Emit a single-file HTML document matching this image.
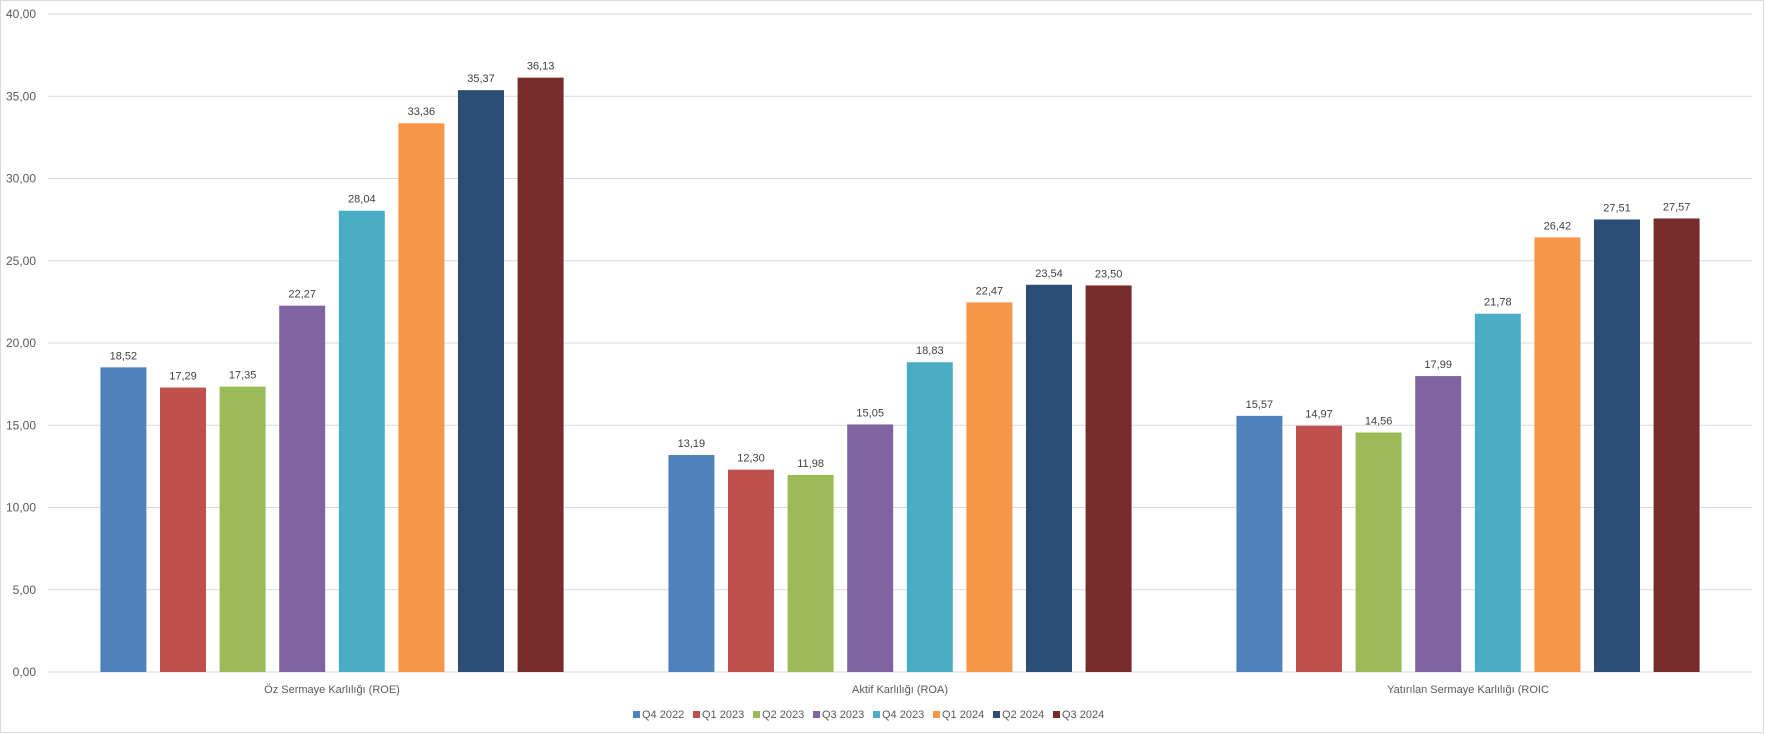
<!DOCTYPE html>
<html><head><meta charset="utf-8"><style>
body{margin:0;background:#fff;}
svg{display:block;font-family:"Liberation Sans",sans-serif;}
</style></head><body>
<svg id="c" width="1765" height="734">
<rect x="0.5" y="0.5" width="1763" height="732" fill="#fff" stroke="#d9d9d9"/>
<g id="grid"></g><g id="bars"></g><g id="labels"></g><g id="legend"></g>
</svg>
<script>
const categories=["Öz Sermaye Karlılığı (ROE)","Aktif Karlılığı (ROA)","Yatırılan Sermaye Karlılığı (ROIC"];
const seriesNames=["Q4 2022","Q1 2023","Q2 2023","Q3 2023","Q4 2023","Q1 2024","Q2 2024","Q3 2024"];
const seriesColors=["#4f81bd","#c0504d","#9bbb59","#8064a2","#4bacc6","#f79646","#2c4d75","#772c2a"];
const roe=[18.52,17.29,17.35,22.27,28.04,33.36,35.37,36.13];
const roa=[13.19,12.30,11.98,15.05,18.83,22.47,23.54,23.50];
const roic=[15.57,14.97,14.56,17.99,21.78,26.42,27.51,27.57];
const yTicks=[0,5,10,15,20,25,30,35,40];
const values=[roe,roa,roic];
const NS="http://www.w3.org/2000/svg";
const X0=48,X1=1752,Y0=672,Y1=14,YMAX=40;
const y=v=>Y0-(v/YMAX)*(Y0-Y1);
const catW=(X1-X0)/categories.length;
const barW=46,step=59.6;
const fmt=v=>v.toFixed(2).replace('.',',');
function mk(tag,attrs,parent,text){const e=document.createElementNS(NS,tag);for(const k in attrs)e.setAttribute(k,attrs[k]);if(text!==undefined)e.textContent=text;document.getElementById(parent).appendChild(e);return e;}
yTicks.forEach(t=>{
  const l=mk('line',{x1:X0,x2:X1,y1:y(t),y2:y(t),stroke:'#d9d9d9','stroke-width':1},'grid');
  
  
  const tx=mk('text',{x:36,y:y(t)+4,'text-anchor':'end','font-size':12,fill:'#595959'},'grid',fmt(t));
  
  
});
const groupW=seriesNames.length*step-(step-barW);
categories.forEach((c,ci)=>{
  const gx=X0+ci*catW+(catW-groupW)/2;
  values[ci].forEach((v,si)=>{
    const bx=gx+si*step;
    const r=mk('rect',{x:bx,y:y(v),width:barW,height:Y0-y(v),fill:seriesColors[si]},'bars');
    
    
    const t=mk('text',{x:bx+barW/2,y:y(v)-8,'text-anchor':'middle','font-size':11,fill:'#404040'},'labels',fmt(v));
    
    
  });
  const ct=mk('text',{x:X0+ci*catW+catW/2,y:693,'text-anchor':'middle','font-size':11,fill:'#595959'},'labels',c);
  
  
});
seriesNames.forEach((n,i)=>{
  const lx=633+i*60;
  const g=mk('g',{},'legend');
  
  
  const s=document.createElementNS(NS,'rect');
  s.setAttribute('x',lx);s.setAttribute('y',711);s.setAttribute('width',7);s.setAttribute('height',7);s.setAttribute('fill',seriesColors[i]);
  
  
  g.appendChild(s);
  const t=document.createElementNS(NS,'text');
  t.setAttribute('x',lx+9);t.setAttribute('y',718);t.setAttribute('font-size',11);t.setAttribute('fill','#595959');
  t.textContent=n;
  
  
  g.appendChild(t);
});
</script>
</body></html>
